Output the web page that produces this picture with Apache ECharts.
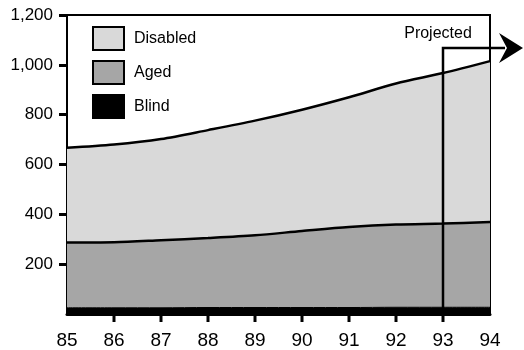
<!DOCTYPE html>
<html>
<head>
<meta charset="utf-8">
<script src="https://cdn.jsdelivr.net/npm/echarts@6/dist/echarts.min.js"></script>
<style>
  html, body { margin: 0; padding: 0; background: #fff; }
  #chart { width: 524px; height: 350px; }
</style>
</head>
<body>
<div id="chart"></div>
<script>
// Recipients by category, fiscal years 85-94 (thousands)
const years = ['85', '86', '87', '88', '89', '90', '91', '92', '93', '94'];
const blind = [25, 25, 25, 26, 26, 26, 26, 27, 27, 27];
const aged = [262, 263, 271, 279, 290, 307, 323, 332, 336, 342];
const disabled = [380, 392, 406, 433, 460, 487, 521, 566, 604, 646];
const yTicks = [200, 400, 600, 800, 1000, 1200];
const projectedFrom = '93';
const projectedLabel = 'Projected';

const FONT = '"Liberation Sans", Arial, Helvetica, sans-serif';

const chart = echarts.init(document.getElementById('chart'), null, { renderer: 'canvas' });

function areaSeries(name, data, fill, lineW) {
  return {
    name: name,
    type: 'line',
    stack: 'total',
    data: data,
    smooth: 0.3,
    symbol: 'none',
    lineStyle: { color: '#000', width: lineW },
    areaStyle: { color: fill, opacity: 1 },
    itemStyle: { color: fill, borderColor: '#000', borderWidth: 2 },
    z: 2
  };
}

chart.setOption({
  animation: false,
  backgroundColor: '#fff',
  grid: {
    left: 67, right: 34, top: 15, bottom: 35,
    show: true, borderColor: '#000', borderWidth: 2, backgroundColor: 'transparent'
  },
  legend: {
    data: ['Disabled', 'Aged', 'Blind'],
    orient: 'vertical',
    left: 92, top: 26, padding: 0,
    itemWidth: 31, itemHeight: 23, itemGap: 9,
    icon: 'rect',
    textStyle: { fontFamily: FONT, fontSize: 16, color: '#000', padding: [0, 0, 0, 5] },
    selectedMode: false
  },
  xAxis: {
    type: 'category',
    data: years,
    boundaryGap: false,
    axisLine: { onZero: false, lineStyle: { color: '#000', width: 3 } },
    axisTick: { show: false },
    axisLabel: { fontFamily: FONT, fontSize: 19, color: '#000', margin: 17 },
    splitLine: { show: false }
  },
  yAxis: {
    type: 'value',
    min: 0, max: 1200, interval: 200,
    axisLine: { show: true, lineStyle: { color: '#000', width: 2 } },
    axisTick: { show: true, length: 8, lineStyle: { color: '#000', width: 3 }, customValues: yTicks },
    axisLabel: {
      fontFamily: FONT, fontSize: 17, color: '#000', margin: 14,
      customValues: yTicks,
      formatter: function (v) { return v.toLocaleString('en-US'); }
    },
    splitLine: { show: false }
  },
  series: [
    areaSeries('Blind', blind, '#000000', 1),
    areaSeries('Aged', aged, '#a6a6a6', 2.5),
    areaSeries('Disabled', disabled, '#d9d9d9', 2.5)
  ]
});

function toPx(cat, val) {
  return chart.convertToPixel({ xAxisIndex: 0, yAxisIndex: 0 }, [cat, val]);
}

// Year ticks under the x axis (inner years only; the ends sit on the frame corners),
// plus the projected marker: a vertical rule at the first projected year bent into an arrow
function drawOverlay() {
  const els = [];
  const xAxisY = toPx(years[0], 0)[1];
  for (let i = 1; i < years.length - 1; i++) {
    const px = toPx(years[i], 0)[0];
    els.push({
      type: 'rect', z: 100,
      shape: { x: Math.round(px) - 1.5, y: xAxisY, width: 3, height: 8 },
      style: { fill: '#000' }
    });
  }

  const base = toPx(projectedFrom, 0);
  const top = toPx(projectedFrom, 1068);
  const x = base[0];
  const yb = base[1];
  const yt = top[1];
  const tipX = 523;
  const backX = tipX - 24;
  els.push(
    {
      type: 'polyline', z: 10,
      shape: { points: [[x, yb], [x, yt], [backX + 6, yt]] },
      style: { stroke: '#000', lineWidth: 2.5, fill: null }
    },
    {
      type: 'polygon', z: 10,
      shape: { points: [[tipX, yt], [backX, yt - 15], [backX + 8, yt], [backX, yt + 15]] },
      style: { fill: '#000' }
    },
    {
      type: 'text', z: 10,
      x: x - 5, y: yt - 14,
      style: {
        text: projectedLabel, fontFamily: FONT, fontSize: 16, fill: '#000',
        align: 'center', verticalAlign: 'middle'
      }
    }
  );
  chart.setOption({ graphic: els });
}
drawOverlay();
</script>
</body>
</html>
